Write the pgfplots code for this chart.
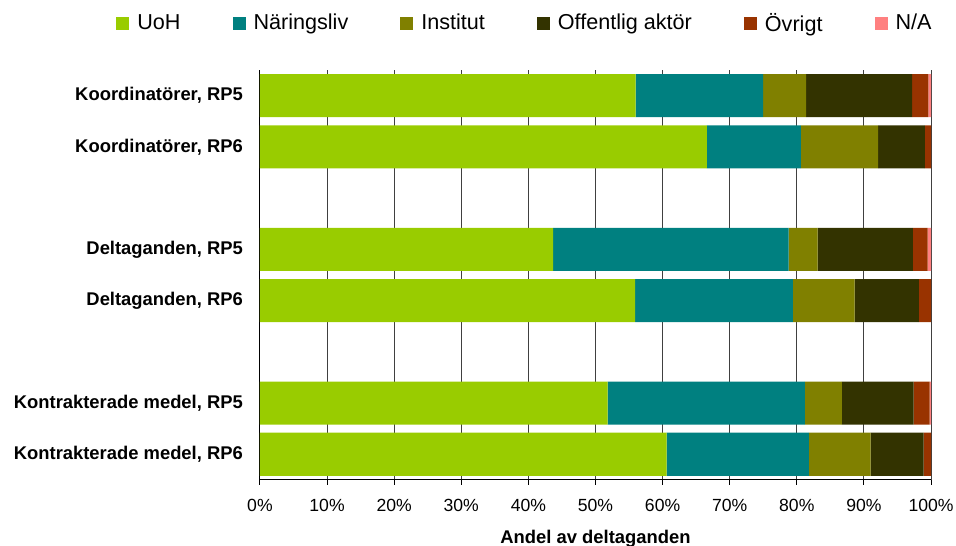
\documentclass[border=0pt]{standalone}
\usepackage{fontspec}
\setmainfont{Liberation Sans}
\usepackage{pgfplots}
\pgfplotsset{compat=1.18}
\usetikzlibrary{calc}

\definecolor{uoh}{HTML}{99CC00}
\definecolor{nar}{HTML}{008080}
\definecolor{inst}{HTML}{808000}
\definecolor{off}{HTML}{333300}
\definecolor{ovr}{HTML}{993300}
\definecolor{na}{HTML}{FF8080}

% y positions: 7 = Koordinatorer RP5 (top) ... 0 = Kontrakterade medel RP6
\pgfplotstableread{
y   uoh   nar   inst  off   ovr  na
7   56.0  19.0  6.4   15.8  2.4  0.4
6   66.6  14.0  11.5  7.0   0.9  0.0
4   43.7  35.1  4.3   14.2  2.2  0.5
3   55.9  23.5  9.2   9.6   1.8  0.0
1   51.8  29.4  5.5   10.7  2.4  0.2
0   60.6  21.2  9.2   7.9   1.1  0.0
}\andel

\begin{document}
\begin{tikzpicture}
\begin{axis}[
    name=ax,
    xbar stacked,
    scale only axis,
    width=335.6pt, height=205pt,
    bar width=0.84,
    xmin=0, xmax=100,
    ymin=-0.5, ymax=7.5,
    axis x line*=bottom, axis y line*=left,
    axis line style={-, black, line width=0.5pt},
    xtick={0,10,...,100},
    xticklabel={\pgfmathprintnumber{\tick}\%},
    /pgf/number format/assume math mode=true,
    xmajorgrids,
    major grid style={black!75, line width=0.5pt},
    tick align=outside,
    major tick length=2.5pt,
    minor tick length=2.5pt,
    xtick style={black, line width=0.5pt},
    ytick={0,1,3,4,6,7},
    yticklabels={{Kontrakterade medel, RP6}, {Kontrakterade medel, RP5},
                 {Deltaganden, RP6}, {Deltaganden, RP5},
                 {Koordinatörer, RP6}, {Koordinatörer, RP5}},
    ytick style={draw=none},
    minor ytick={-0.5,0.5,...,7.5},
    minor y tick style={black, line width=0.5pt},
    xticklabel style={font=\fontsize{8.8}{10}\selectfont, yshift=-3.5pt},
    yticklabel style={font=\fontsize{9.2}{11}\selectfont\bfseries, xshift=-2.5pt},
    xlabel={Andel av deltaganden},
    xlabel style={font=\fontsize{9.2}{11}\selectfont\bfseries, yshift=-2.3pt},
    legend columns=6,
    legend style={draw=none, at={(-0.2146,1.113)}, anchor=west,
        font=\fontsize{10.8}{12}\selectfont, inner xsep=0pt,
        /tikz/every odd column/.append style={column sep=2pt},
        /tikz/every even column/.append style={column sep=24pt}},
    legend image code/.code={\fill[#1] (0pt,-3.25pt) rectangle (6.5pt,3.25pt);},
]
\addplot[fill=uoh, draw=none] table[x=uoh, y=y] {\andel};
\addplot[fill=nar, draw=none] table[x=nar, y=y] {\andel};
\addplot[fill=inst, draw=none] table[x=inst, y=y] {\andel};
\addplot[fill=off, draw=none] table[x=off, y=y] {\andel};
\addplot[fill=ovr, draw=none] table[x=ovr, y=y] {\andel};
\addplot[fill=na, draw=none] table[x=na, y=y] {\andel};
\legend{UoH, Näringsliv, Institut, Offentlig aktör, Övrigt, N/A}
\end{axis}
\pgfresetboundingbox
\path ($(ax.south west)+(-130pt,-33pt)$) rectangle ($(ax.north east)+(12.5pt,35pt)$);
\end{tikzpicture}
\end{document}
